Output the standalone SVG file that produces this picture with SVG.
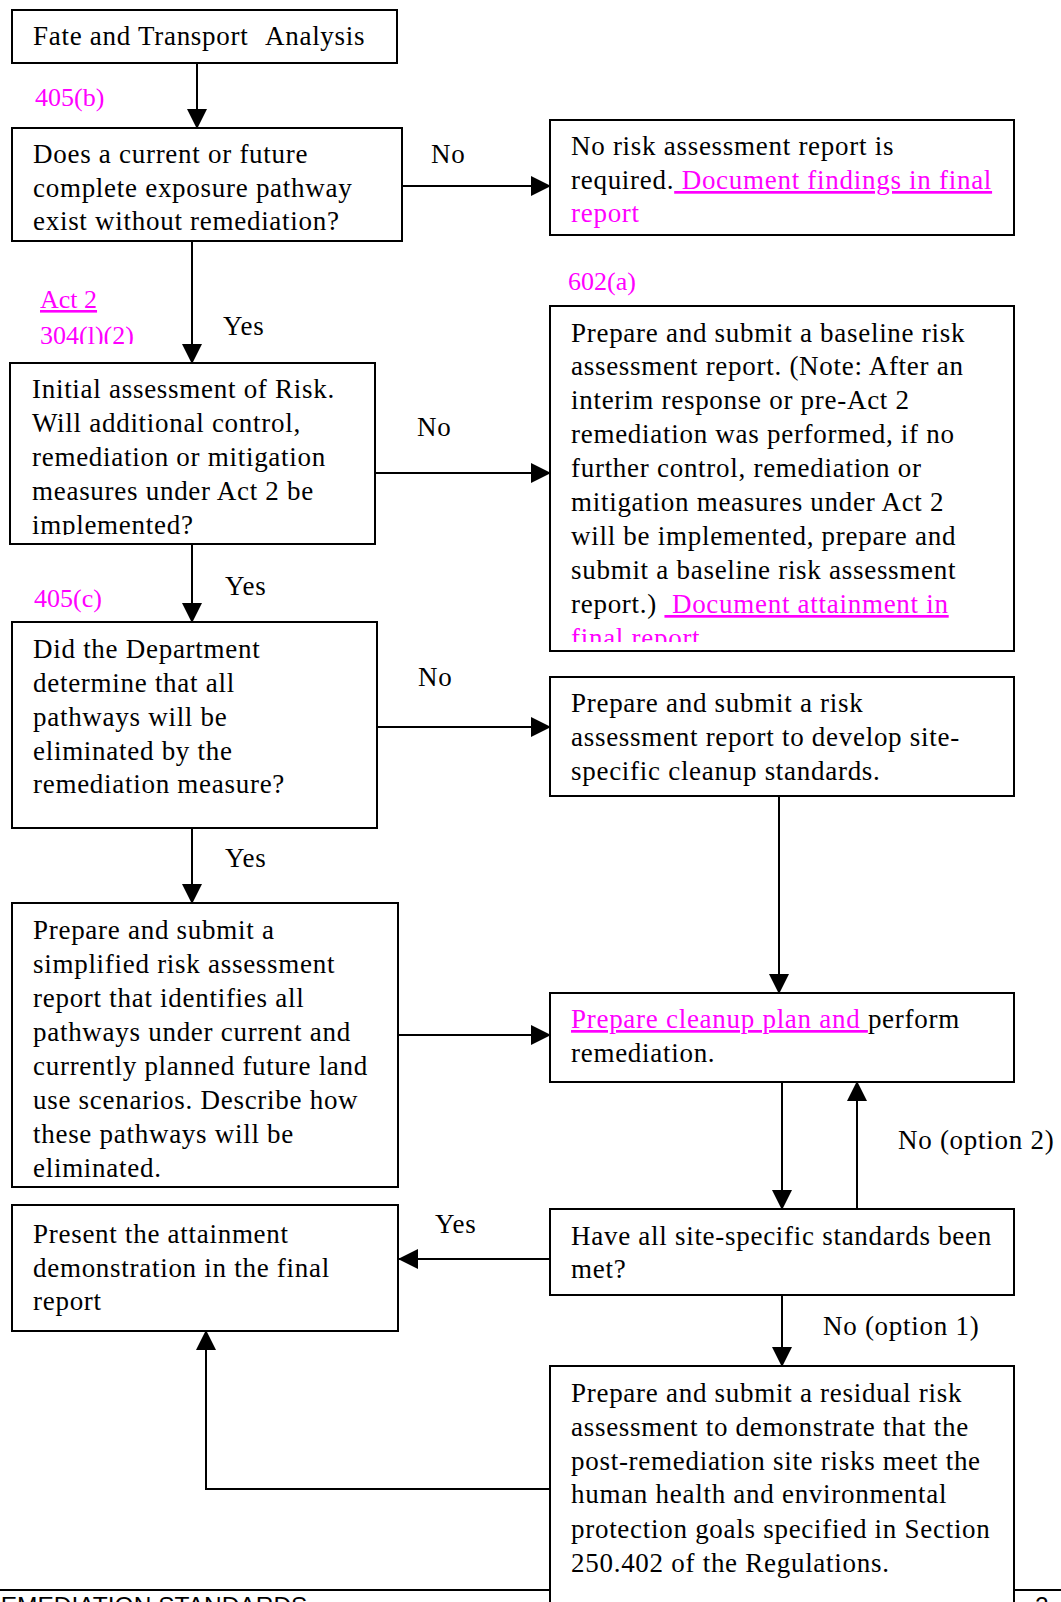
<svg xmlns="http://www.w3.org/2000/svg" width="1061" height="1602" viewBox="0 0 1061 1602">
<style>
.box{fill:#fff;stroke:#000;stroke-width:2}
.t{font-family:"Liberation Serif","Times New Roman",serif;font-size:27px;letter-spacing:0.72px;fill:#000}
.m{font-family:"Liberation Serif","Times New Roman",serif;font-size:26px;fill:#ff00ff}
.mg{fill:#ff00ff}
.u{text-decoration:underline}
.c{fill:none;stroke:#000;stroke-width:2}
.foot{font-family:"Liberation Sans",Arial,sans-serif;font-size:24.5px;fill:#000}
</style>
<defs>
<marker id="ah" markerUnits="userSpaceOnUse" markerWidth="20" markerHeight="20" refX="19" refY="10" orient="auto">
<path d="M0,0 L20,10 L0,20 Z" fill="#000"/>
</marker>
<clipPath id="clipInit"><rect x="10" y="363" width="365" height="172"/></clipPath>
<clipPath id="clipB4"><rect x="550" y="306" width="464" height="336"/></clipPath>
<clipPath id="clipAct"><rect x="0" y="280" width="200" height="64"/></clipPath>
</defs>

<g id="footer">
<line x1="0" y1="1590" x2="1061" y2="1590" stroke="#000" stroke-width="2"/>
<text class="foot" x="-17" y="1614">REMEDIATION STANDARDS</text>
<text class="foot" x="1035" y="1614">2</text>
</g>

<g id="n1"><rect class="box" x="12" y="10" width="385" height="53"/>
<text class="t" x="33" y="45">Fate and Transport <tspan x="265">Analysis</tspan></text></g>

<g id="n2"><rect class="box" x="12" y="128" width="390" height="113"/>
<text class="t" x="33" y="163">Does a current or future</text>
<text class="t" x="33" y="197">complete exposure pathway</text>
<text class="t" x="33" y="230">exist without remediation?</text></g>

<g id="n3"><rect class="box" x="550" y="120" width="464" height="115"/>
<text class="t" x="571" y="155">No risk assessment report is</text>
<text class="t" x="571" y="189" xml:space="preserve">required.<tspan class="mg u"> Document findings in final</tspan></text>
<text class="t mg" x="571" y="222">report</text></g>

<g id="n4"><rect class="box" x="550" y="306" width="464" height="345"/>
<g clip-path="url(#clipB4)">
<text class="t" x="571" y="342">Prepare and submit a baseline risk</text>
<text class="t" x="571" y="375">assessment report. (Note: After an</text>
<text class="t" x="571" y="409">interim response or pre-Act 2</text>
<text class="t" x="571" y="443">remediation was performed, if no</text>
<text class="t" x="571" y="477">further control, remediation or</text>
<text class="t" x="571" y="511">mitigation measures under Act 2</text>
<text class="t" x="571" y="545">will be implemented, prepare and</text>
<text class="t" x="571" y="579">submit a baseline risk assessment</text>
<text class="t" x="571" y="613" xml:space="preserve">report.) <tspan class="mg u"> Document attainment in</tspan></text>
<text class="t mg" x="571" y="647">final report</text>
</g></g>

<g id="n5"><rect class="box" x="10" y="363" width="365" height="181"/>
<g clip-path="url(#clipInit)">
<text class="t" x="32" y="398">Initial assessment of Risk.</text>
<text class="t" x="32" y="432">Will additional control,</text>
<text class="t" x="32" y="466">remediation or mitigation</text>
<text class="t" x="32" y="500">measures under Act 2 be</text>
<text class="t" x="32" y="534">implemented?</text>
</g></g>

<g id="n6"><rect class="box" x="12" y="622" width="365" height="206"/>
<text class="t" x="33" y="658">Did the Department</text>
<text class="t" x="33" y="692">determine that all</text>
<text class="t" x="33" y="726">pathways will be</text>
<text class="t" x="33" y="760">eliminated by the</text>
<text class="t" x="33" y="793">remediation measure?</text></g>

<g id="n7"><rect class="box" x="550" y="677" width="464" height="119"/>
<text class="t" x="571" y="712">Prepare and submit a risk</text>
<text class="t" x="571" y="746">assessment report to develop site-</text>
<text class="t" x="571" y="780">specific cleanup standards.</text></g>

<g id="n8"><rect class="box" x="12" y="903" width="386" height="284"/>
<text class="t" x="33" y="939">Prepare and submit a</text>
<text class="t" x="33" y="973">simplified risk assessment</text>
<text class="t" x="33" y="1007">report that identifies all</text>
<text class="t" x="33" y="1041">pathways under current and</text>
<text class="t" x="33" y="1075">currently planned future land</text>
<text class="t" x="33" y="1109">use scenarios. Describe how</text>
<text class="t" x="33" y="1143">these pathways will be</text>
<text class="t" x="33" y="1177">eliminated.</text></g>

<g id="n9"><rect class="box" x="550" y="993" width="464" height="89"/>
<text class="t" x="571" y="1028" xml:space="preserve"><tspan class="mg u">Prepare cleanup plan and </tspan>perform</text>
<text class="t" x="571" y="1062">remediation.</text></g>

<g id="n10"><rect class="box" x="550" y="1209" width="464" height="86"/>
<text class="t" x="571" y="1245">Have all site-specific standards been</text>
<text class="t" x="571" y="1278">met?</text></g>

<g id="n11"><rect class="box" x="12" y="1205" width="386" height="126"/>
<text class="t" x="33" y="1243">Present the attainment</text>
<text class="t" x="33" y="1277">demonstration in the final</text>
<text class="t" x="33" y="1310">report</text></g>

<g id="n12"><rect class="box" x="550" y="1366" width="464" height="260"/>
<text class="t" x="571" y="1402">Prepare and submit a residual risk</text>
<text class="t" x="571" y="1436">assessment to demonstrate that the</text>
<text class="t" x="571" y="1470">post-remediation site risks meet the</text>
<text class="t" x="571" y="1503">human health and environmental</text>
<text class="t" x="571" y="1538">protection goals specified in Section</text>
<text class="t" x="571" y="1572">250.402 of the Regulations.</text></g>

<g id="refs">
<text class="m" x="35" y="106">405(b)</text>
<text class="m" x="568" y="290">602(a)</text>
<text class="m u" x="40" y="308">Act 2</text>
<g clip-path="url(#clipAct)"><text class="m" x="40" y="344">304(l)(2)</text></g>
<text class="m" x="34" y="607">405(c)</text>
</g>

<g id="connectors">
<line class="c" x1="197" y1="63" x2="197" y2="128" marker-end="url(#ah)"/>
<line class="c" x1="402" y1="186" x2="550" y2="186" marker-end="url(#ah)"/>
<line class="c" x1="192" y1="241" x2="192" y2="363" marker-end="url(#ah)"/>
<line class="c" x1="375" y1="473" x2="550" y2="473" marker-end="url(#ah)"/>
<line class="c" x1="192" y1="544" x2="192" y2="622" marker-end="url(#ah)"/>
<line class="c" x1="377" y1="727" x2="550" y2="727" marker-end="url(#ah)"/>
<line class="c" x1="192" y1="828" x2="192" y2="903" marker-end="url(#ah)"/>
<line class="c" x1="779" y1="796" x2="779" y2="993" marker-end="url(#ah)"/>
<line class="c" x1="398" y1="1035" x2="550" y2="1035" marker-end="url(#ah)"/>
<line class="c" x1="782" y1="1082" x2="782" y2="1209" marker-end="url(#ah)"/>
<line class="c" x1="857" y1="1209" x2="857" y2="1082" marker-end="url(#ah)"/>
<line class="c" x1="550" y1="1259" x2="399" y2="1259" marker-end="url(#ah)"/>
<line class="c" x1="782" y1="1295" x2="782" y2="1366" marker-end="url(#ah)"/>
<polyline class="c" points="550,1489 206,1489 206,1331" marker-end="url(#ah)"/>
<text class="t" x="431" y="163">No</text>
<text class="t" x="223" y="335">Yes</text>
<text class="t" x="417" y="436">No</text>
<text class="t" x="225" y="595">Yes</text>
<text class="t" x="418" y="686">No</text>
<text class="t" x="225" y="867">Yes</text>
<text class="t" x="898" y="1149">No (option 2)</text>
<text class="t" x="435" y="1233">Yes</text>
<text class="t" x="823" y="1335">No (option 1)</text>
</g>
</svg>
